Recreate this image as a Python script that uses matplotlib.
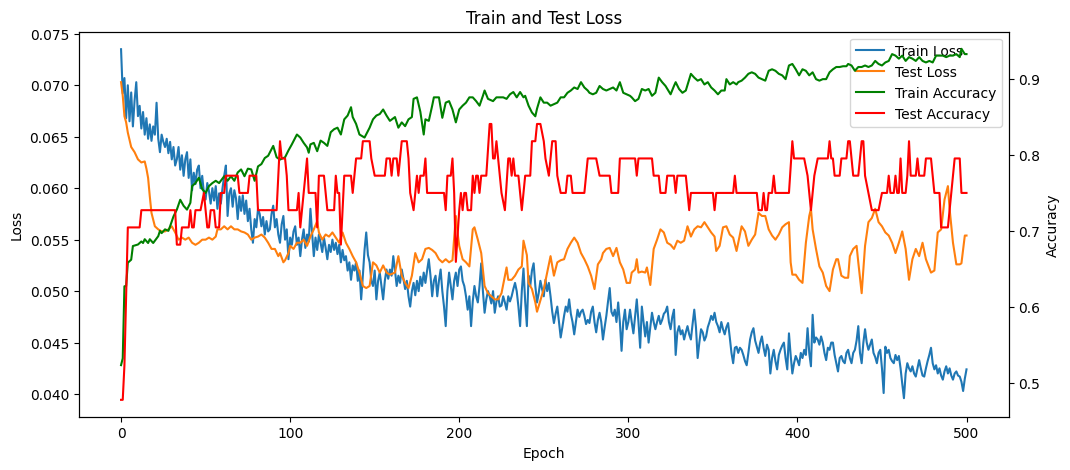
import matplotlib
matplotlib.use("Agg")
import matplotlib.pyplot as plt
import numpy as np

# train loss, one value per epoch (0..500)
train_loss = [
    .0735, .0692, .0707, .0668, .0700, .0665, .0693, .0660, .0685, .0703,
    .0670, .0680, .0658, .0674, .0652, .0668, .0648, .0662, .0646, .0660,
    .0652, .0683, .0648, .0635, .0652, .0645, .0640, .0648, .0634, .0645,
    .0628, .0640, .0622, .0628, .0640, .0618, .0632, .0612, .0628, .0635,
    .0610, .0628, .0598, .0615, .0604, .0618, .0622, .0600, .0612, .0595,
    .0589, .0605, .0597, .0585, .0600, .0588, .0602, .0580, .0595, .0585,
    .0600, .0612, .0622, .0573, .0595, .0600, .0582, .0598, .0590, .0570,
    .0592, .0578, .0593, .0575, .0588, .0568, .0580, .0560, .0547, .0570,
    .0562, .0580, .0575, .0563, .0572, .0555, .0568, .0558, .0560, .0575,
    .0583, .0562, .0570, .0555, .0547, .0565, .0573, .0550, .0560, .0531,
    .0552, .0545, .0558, .0563, .0545, .0552, .0534, .0550, .0560, .0542,
    .0555, .0548, .0580, .0556, .0534, .0552, .0540, .0555, .0547, .0538,
    .0552, .0542, .0531, .0545, .0538, .0550, .0540, .0547, .0536, .0545,
    .0528, .0540, .0530, .0534, .0520, .0528, .0511, .0525, .0520, .0528,
    .0510, .0520, .0492, .0515, .0540, .0557, .0535, .0528, .0510, .0505,
    .0520, .0492, .0510, .0518, .0505, .0492, .0510, .0521, .0512, .0521,
    .0515, .0534, .0520, .0505, .0515, .0508, .0521, .0512, .0502, .0510,
    .0495, .0485, .0500, .0508, .0496, .0510, .0500, .0514, .0505, .0518,
    .0508, .0520, .0531, .0515, .0495, .0510, .0515, .0495, .0510, .0521,
    .0500, .0485, .0466, .0500, .0518, .0505, .0492, .0510, .0518, .0505,
    .0521, .0524, .0510, .0505, .0495, .0482, .0495, .0466, .0490, .0505,
    .0495, .0489, .0505, .0527, .0500, .0479, .0492, .0500, .0495, .0488,
    .0500, .0479, .0490, .0495, .0485, .0486, .0495, .0489, .0482, .0495,
    .0490, .0495, .0502, .0508, .0500, .0485, .0466, .0500, .0522, .0490,
    .0466, .0515, .0505, .0520, .0527, .0505, .0489, .0498, .0510, .0502,
    .0495, .0511, .0500, .0508, .0495, .0480, .0469, .0478, .0485, .0470,
    .0455, .0465, .0476, .0485, .0480, .0492, .0478, .0470, .0458, .0470,
    .0482, .0475, .0480, .0482, .0476, .0468, .0472, .0469, .0480, .0485,
    .0470, .0460, .0472, .0479, .0470, .0453, .0465, .0476, .0490, .0503,
    .0480, .0476, .0482, .0470, .0489, .0470, .0442, .0470, .0482, .0463,
    .0470, .0482, .0470, .0459, .0475, .0492, .0470, .0445, .0485, .0470,
    .0456, .0470, .0450, .0465, .0479, .0470, .0463, .0470, .0476, .0468,
    .0472, .0478, .0480, .0485, .0470, .0463, .0475, .0482, .0438, .0460,
    .0466, .0458, .0462, .0453, .0460, .0466, .0458, .0453, .0468, .0482,
    .0465, .0435, .0450, .0463, .0460, .0452, .0456, .0465, .0470, .0476,
    .0472, .0479, .0470, .0466, .0460, .0470, .0463, .0458, .0465, .0469,
    .0455, .0440, .0430, .0445, .0446, .0440, .0445, .0443, .0438, .0432,
    .0428, .0440, .0453, .0460, .0464, .0452, .0446, .0440, .0450, .0456,
    .0445, .0437, .0448, .0443, .0420, .0435, .0443, .0432, .0424, .0438,
    .0443, .0447, .0450, .0435, .0424, .0459, .0438, .0420, .0430, .0437,
    .0433, .0428, .0440, .0435, .0443, .0438, .0464, .0440, .0427, .0477,
    .0450, .0455, .0453, .0448, .0456, .0450, .0440, .0433, .0445, .0443,
    .0450, .0450, .0438, .0430, .0422, .0435, .0437, .0432, .0430, .0440,
    .0443, .0435, .0430, .0440, .0443, .0452, .0466, .0440, .0430, .0450,
    .0463, .0450, .0443, .0448, .0453, .0440, .0436, .0430, .0440, .0443,
    .0425, .0401, .0446, .0440, .0443, .0435, .0432, .0430, .0438, .0433,
    .0437, .0425, .0410, .0396, .0420, .0430, .0425, .0422, .0427, .0420,
    .0417, .0425, .0433, .0425, .0418, .0417, .0425, .0432, .0438, .0445,
    .0430, .0424, .0428, .0420, .0425, .0418, .0414, .0422, .0427, .0420,
    .0425, .0418, .0414, .0420, .0422, .0418, .0417, .0412, .0403, .0415,
    .0424,
]

# test loss, read at irregular epochs
test_loss_ep = [
    0, 1, 2, 3, 4, 6, 8, 10, 12, 14, 15, 16, 17, 18, 20, 22, 24, 26, 28, 30,
    32, 34, 36, 38, 40, 42, 44, 46, 48, 50, 52, 54, 56, 57, 59, 61, 63, 65, 67, 69,
    71, 73, 75, 77, 79, 81, 83, 85, 87, 89, 91, 93, 94, 96, 97, 99, 100, 102, 104, 106,
    108, 110, 112, 114, 116, 117, 119, 121, 123, 125, 127, 129, 131, 133, 135, 137, 139, 141, 143, 145,
    147, 149, 151, 153, 155, 157, 159, 162, 164, 166, 168, 170, 172, 174, 176, 178, 180, 182, 184, 186,
    188, 190, 192, 194, 196, 198, 199, 200, 202, 204, 206, 208, 209, 211, 213, 215, 217, 219, 221, 223,
    225, 228, 229, 231, 233, 235, 237, 238, 240, 241, 243, 245, 246, 248, 250, 252, 254, 256, 258, 260,
    262, 264, 266, 268, 270, 272, 274, 276, 278, 280, 282, 284, 285, 287, 289, 291, 293, 295, 297, 299,
    301, 302, 304, 305, 306, 308, 310, 311, 313, 315, 317, 319, 321, 323, 325, 327, 329, 331, 333, 335,
    337, 339, 341, 343, 345, 347, 349, 351, 352, 354, 356, 358, 360, 362, 364, 365, 367, 369, 371, 373,
    375, 377, 379, 381, 383, 385, 387, 389, 391, 393, 395, 396, 397, 399, 401, 403, 405, 407, 408, 409,
    411, 413, 415, 417, 419, 421, 423, 424, 426, 428, 430, 431, 433, 435, 436, 438, 440, 442, 444, 446,
    448, 450, 452, 454, 456, 458, 460, 462, 464, 466, 468, 470, 472, 474, 476, 479, 481, 483, 485, 487,
    489, 490, 492, 494, 496, 497, 499, 500,
]
test_loss = [
    .0703, .0690, .0670, .0664, .0654, .0640, .0635, .0628, .0625, .0626, .0619, .0610, .0592, .0576, .0563, .0560, .0558, .0558, .0560, .0563,
    .0557, .0550, .0552, .0550, .0552, .0547, .0545, .0547, .0550, .0550, .0552, .0550, .0553, .0560, .0560, .0563, .0560, .0563, .0560, .0560,
    .0558, .0557, .0555, .0550, .0552, .0553, .0555, .0552, .0547, .0541, .0541, .0534, .0537, .0528, .0530, .0537, .0544, .0541, .0547, .0547,
    .0550, .0544, .0553, .0560, .0568, .0557, .0550, .0555, .0553, .0557, .0552, .0547, .0557, .0547, .0541, .0534, .0528, .0518, .0505, .0503,
    .0505, .0528, .0525, .0518, .0525, .0518, .0516, .0518, .0534, .0515, .0508, .0503, .0515, .0537, .0528, .0531, .0541, .0542, .0540, .0537,
    .0531, .0528, .0531, .0528, .0530, .0573, .0557, .0544, .0531, .0528, .0524, .0560, .0562, .0550, .0537, .0505, .0498, .0495, .0492, .0492,
    .0498, .0523, .0511, .0511, .0515, .0521, .0524, .0549, .0535, .0508, .0502, .0489, .0480, .0491, .0502, .0518, .0534, .0515, .0528, .0530,
    .0531, .0541, .0547, .0552, .0547, .0537, .0531, .0524, .0515, .0502, .0526, .0531, .0537, .0541, .0542, .0534, .0542, .0528, .0521, .0508,
    .0508, .0518, .0521, .0531, .0518, .0519, .0518, .0523, .0506, .0541, .0550, .0560, .0557, .0547, .0545, .0541, .0549, .0547, .0549, .0563,
    .0553, .0560, .0563, .0562, .0567, .0562, .0557, .0553, .0539, .0544, .0562, .0563, .0555, .0552, .0539, .0547, .0563, .0558, .0544, .0550,
    .0555, .0576, .0573, .0573, .0560, .0554, .0550, .0555, .0562, .0565, .0567, .0528, .0516, .0516, .0511, .0508, .0547, .0573, .0580, .0560,
    .0541, .0524, .0518, .0505, .0500, .0521, .0531, .0531, .0515, .0513, .0513, .0534, .0541, .0544, .0528, .0498, .0544, .0567, .0571, .0580,
    .0567, .0563, .0557, .0554, .0547, .0537, .0547, .0558, .0541, .0511, .0531, .0541, .0534, .0547, .0531, .0518, .0520, .0557, .0560, .0589,
    .0602, .0580, .0547, .0526, .0526, .0527, .0554, .0554,
]

# train accuracy, read at irregular epochs
train_acc_ep = [
    0, 1, 2, 3, 4, 6, 7, 10, 12, 13, 14, 16, 17, 19, 22, 23, 24, 26, 28, 29,
    31, 33, 35, 37, 39, 41, 42, 44, 46, 48, 50, 52, 54, 56, 58, 61, 63, 65, 67, 69,
    71, 73, 75, 77, 79, 81, 83, 85, 87, 90, 92, 94, 97, 99, 101, 104, 106, 108, 110, 111,
    112, 114, 116, 118, 120, 122, 124, 126, 128, 130, 132, 134, 136, 137, 139, 141, 144, 147, 149, 151,
    153, 155, 157, 159, 162, 164, 166, 168, 170, 172, 173, 175, 177, 179, 180, 182, 184, 185, 188, 190,
    192, 194, 196, 198, 200, 202, 204, 206, 208, 210, 212, 214, 215, 217, 220, 222, 226, 228, 230, 232,
    234, 236, 238, 239, 241, 243, 245, 246, 248, 250, 252, 254, 256, 258, 260, 262, 264, 266, 268, 270,
    272, 274, 276, 277, 279, 281, 283, 285, 287, 289, 291, 293, 295, 297, 299, 301, 302, 304, 306, 308,
    310, 312, 314, 316, 318, 320, 322, 325, 327, 328, 330, 332, 334, 337, 339, 341, 343, 345, 347, 349,
    351, 353, 355, 357, 358, 360, 362, 364, 365, 367, 369, 371, 373, 375, 377, 379, 381, 383, 385, 387,
    389, 391, 393, 395, 397, 399, 401, 403, 405, 407, 409, 411, 413, 415, 417, 419, 421, 423, 425, 427,
    429, 430, 432, 434, 436, 438, 440, 442, 444, 446, 448, 450, 452, 454, 456, 458, 460, 462, 464, 466,
    468, 470, 472, 474, 476, 478, 480, 482, 484, 486, 488, 490, 492, 494, 496, 497, 499, 500,
]
train_acc = [
    .523, .532, .627, .627, .658, .662, .680, .682, .686, .684, .689, .684, .689, .684, .693, .700, .697, .702, .700, .706,
    .719, .728, .741, .733, .728, .737, .759, .763, .770, .755, .750, .759, .763, .766, .763, .772, .766, .772, .766, .777,
    .781, .772, .782, .781, .766, .785, .788, .796, .799, .812, .797, .794, .797, .806, .814, .827, .823, .816, .810, .803,
    .814, .816, .805, .819, .816, .812, .830, .834, .836, .827, .847, .852, .863, .850, .841, .827, .823, .836, .847, .852,
    .854, .860, .852, .845, .850, .836, .843, .838, .847, .850, .874, .876, .857, .827, .847, .845, .865, .876, .876, .849,
    .869, .871, .860, .843, .860, .865, .869, .876, .876, .871, .865, .878, .885, .874, .871, .876, .876, .874, .880, .883,
    .876, .883, .876, .878, .865, .856, .851, .861, .876, .869, .869, .865, .867, .869, .876, .876, .882, .885, .889, .887,
    .896, .889, .885, .882, .880, .882, .891, .887, .885, .887, .889, .885, .896, .882, .880, .878, .876, .871, .874, .887,
    .885, .887, .878, .882, .902, .896, .891, .880, .891, .896, .887, .882, .885, .907, .902, .898, .900, .893, .896, .889,
    .885, .880, .885, .885, .900, .893, .896, .893, .896, .898, .902, .907, .909, .907, .902, .900, .898, .911, .913, .911,
    .907, .905, .900, .918, .920, .913, .905, .913, .911, .905, .909, .900, .898, .900, .900, .909, .913, .916, .916, .917,
    .917, .920, .918, .911, .916, .916, .918, .916, .918, .924, .920, .918, .922, .924, .933, .931, .927, .931, .924, .929,
    .927, .924, .929, .924, .922, .924, .922, .931, .931, .931, .929, .931, .931, .933, .929, .940, .933, .933,
]

# test accuracy: correct answers out of 44, at the epochs where the level changes
test_size = 44
test_acc_ep = [
    0, 1, 2, 4, 11, 12, 32, 33, 35, 36, 40, 41, 42, 43, 44, 47, 49, 50, 51, 52,
    53, 55, 56, 58, 59, 61, 62, 69, 70, 75, 76, 80, 81, 92, 94, 95, 97, 98, 99, 104,
    105, 106, 108, 110, 111, 115, 116, 117, 120, 121, 122, 126, 127, 128, 129, 130, 132, 136, 137, 138,
    139, 142, 143, 147, 148, 150, 156, 157, 159, 160, 161, 163, 164, 165, 166, 169, 170, 171, 173, 174,
    175, 176, 177, 179, 180, 181, 191, 192, 193, 195, 196, 197, 198, 200, 201, 202, 203, 204, 205, 207,
    208, 209, 210, 211, 212, 213, 216, 218, 219, 220, 221, 222, 223, 225, 227, 229, 230, 231, 232, 233,
    235, 237, 239, 242, 243, 245, 246, 248, 250, 251, 253, 255, 257, 258, 260, 263, 264, 266, 267, 274,
    276, 281, 283, 289, 290, 294, 295, 304, 305, 306, 314, 315, 318, 319, 322, 323, 327, 328, 329, 334,
    336, 337, 350, 351, 352, 362, 363, 364, 376, 377, 379, 380, 381, 382, 383, 385, 386, 387, 395, 397,
    398, 404, 406, 408, 409, 410, 412, 418, 419, 420, 421, 422, 425, 426, 429, 430, 431, 433, 436, 438,
    439, 440, 442, 444, 448, 450, 453, 454, 455, 457, 458, 459, 460, 461, 462, 464, 465, 466, 467, 470,
    471, 472, 475, 476, 479, 481, 484, 485, 489, 491, 493, 496, 497, 500,
]
test_correct = [
    21, 21, 23, 31, 31, 32, 32, 30, 30, 31, 31, 32, 31, 31, 32, 32, 33, 32, 31, 31,
    32, 32, 31, 31, 33, 33, 34, 34, 33, 33, 34, 34, 32, 32, 36, 35, 35, 34, 32, 32,
    33, 31, 33, 35, 33, 33, 31, 34, 34, 33, 32, 32, 34, 33, 33, 30, 34, 34, 33, 34,
    35, 35, 36, 36, 35, 34, 34, 35, 35, 34, 35, 35, 34, 35, 36, 36, 35, 33, 32, 33,
    34, 33, 34, 34, 35, 33, 33, 32, 34, 34, 35, 33, 29, 32, 33, 32, 33, 33, 32, 32,
    34, 33, 34, 34, 33, 34, 34, 37, 37, 35, 35, 36, 35, 33, 32, 35, 35, 34, 35, 34,
    34, 32, 34, 34, 36, 36, 37, 37, 36, 35, 34, 36, 36, 34, 33, 33, 34, 34, 33, 33,
    35, 35, 34, 34, 33, 33, 35, 35, 34, 35, 35, 34, 34, 33, 33, 34, 34, 33, 34, 34,
    32, 33, 33, 32, 33, 33, 34, 33, 33, 32, 32, 33, 32, 32, 33, 33, 34, 33, 33, 36,
    35, 35, 34, 32, 33, 34, 35, 35, 36, 35, 35, 34, 34, 35, 35, 36, 36, 34, 34, 36,
    36, 34, 33, 32, 32, 33, 33, 34, 33, 33, 34, 33, 33, 35, 33, 33, 34, 36, 34, 34,
    35, 34, 34, 35, 35, 33, 33, 31, 31, 33, 35, 35, 33, 33,
]

epochs = np.arange(len(train_loss))
test_acc = np.array(test_correct) / test_size

fig, ax1 = plt.subplots(figsize=(12, 5))
l1, = ax1.plot(epochs, train_loss, label="Train Loss")
l2, = ax1.plot(test_loss_ep, test_loss, label="Test Loss")
ax1.set_xlabel("Epoch")
ax1.set_ylabel("Loss")
ax1.set_ylim(0.0378, 0.0752)

ax2 = ax1.twinx()
l3, = ax2.plot(train_acc_ep, train_acc, color="green", label="Train Accuracy")
l4, = ax2.plot(test_acc_ep, test_acc, color="red", label="Test Accuracy")
ax2.set_ylabel("Accuracy")
ax2.set_ylim(0.455, 0.9625)

ax1.set_xlim(-25, 525)
lines = [l1, l2, l3, l4]
ax1.legend(lines, [l.get_label() for l in lines], loc="upper right")
ax1.set_title("Train and Test Loss")

fig.savefig("out.png", dpi=100, bbox_inches="tight")
